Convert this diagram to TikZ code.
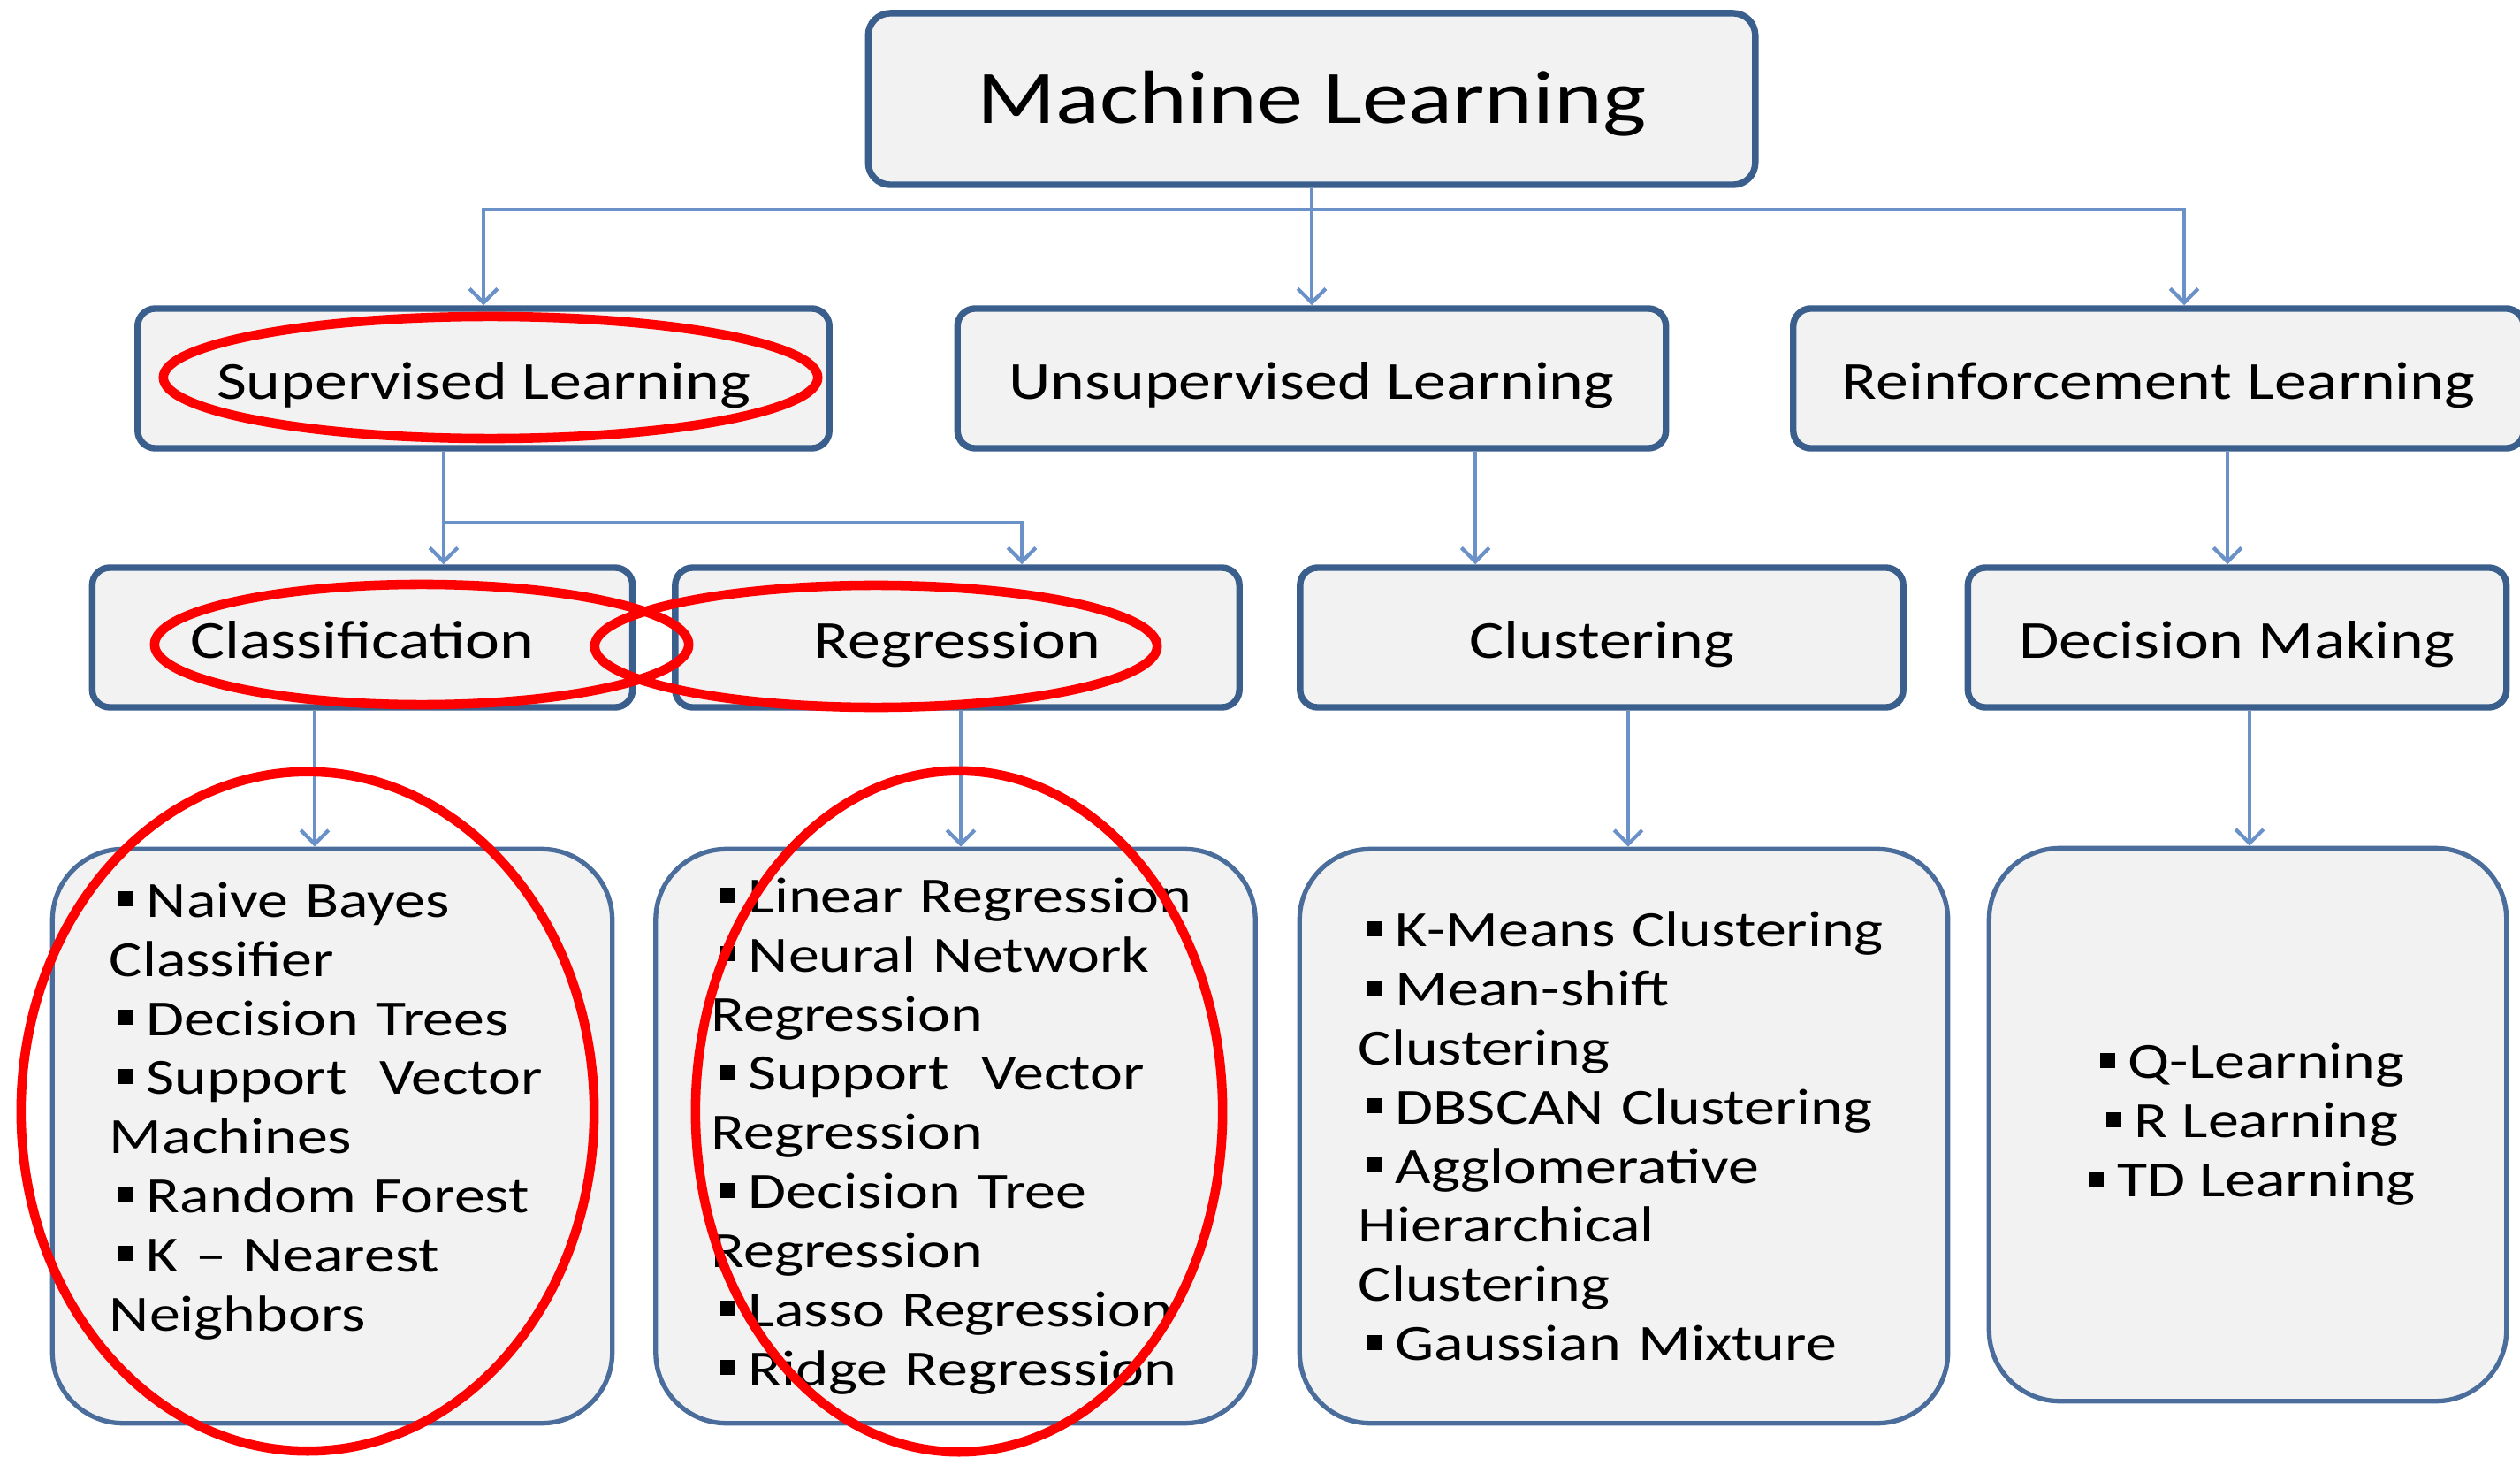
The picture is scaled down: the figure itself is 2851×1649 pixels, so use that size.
\documentclass[tikz,border=0pt]{standalone}
\usepackage{fontspec}
\setmainfont{Carlito}[FakeStretch=1.22]
\usepackage{tikz}
\usetikzlibrary{arrows.meta, positioning, calc}
\definecolor{mlEdge}{HTML}{3B5F8D}
\definecolor{mlFill}{HTML}{F2F2F2}
\definecolor{mlLink}{HTML}{6A92C8}
\definecolor{mlList}{HTML}{4A6D9C}
\definecolor{mlRing}{HTML}{FF0000}
\newcommand{\blt}{\hspace{0.1cm}\rule[0.12cm]{0.17cm}{0.17cm}\hspace{0.15cm}}
\tikzset{
  arrowB/.style={-{Straight Barb[length=4.5pt, width=9pt]}, mlLink, line width=1.2pt},
  boxT/.style={rectangle, rounded corners=0.25cm, draw=mlEdge, fill=mlFill,
               line width=2.1pt, align=center, text height=21pt, text depth=5.1pt,
               font=\fontsize{24.3}{29}\selectfont},
  boxH/.style={rectangle, rounded corners=0.2cm, draw=mlEdge, fill=mlFill,
               line width=2.1pt, align=center, minimum height=1.58cm,
               text height=17pt, text depth=3.6pt, font=\fontsize{17.2}{20}\selectfont},
  boxL/.style={rectangle, rounded corners=0.8cm, draw=mlList, fill=mlFill,
               line width=1.5pt, align=left, minimum height=6.49cm,
               font=\fontsize{16.3}{19}\selectfont},
  ringR/.style={mlRing, line width=3pt},
}
\begin{document}
\begin{tikzpicture}[x=0.01cm, y=-0.01cm]
    \useasboundingbox (0,0) rectangle (2851,1649);
    \node[boxT, minimum width=10.03cm, minimum height=1.94cm] (ml) at (1484,112)
      {Machine Learning};
    \node[boxH, minimum width=7.82cm] (sup) at (547,428) {Supervised Learning};
    \node[boxH, minimum width=8.01cm] (unsup) at (1484,428) {Unsupervised Learning};
    \node[boxH, minimum width=8.26cm] (rl) at (2442,428) {Reinforcement Learning};
    \node[boxH, minimum width=6.11cm] (cls) at (410,721) {Classification};
    \node[boxH, minimum width=6.38cm] (reg) at (1083,721) {Regression};
    \node[boxH, minimum width=6.82cm] (clu) at (1812,721) {Clustering};
    \node[boxH, minimum width=6.09cm] (dm) at (2531,721) {Decision Making};
    \node[boxL, minimum width=6.33cm, text width=5.04cm] (clist) at (376,1285)
      {\blt Naive Bayes\\Classifier\\\blt Decision Trees\\\blt Support\hspace{0.3em} Vector\\Machines\\
       \blt Random Forest\\\blt K – Nearest\\Neighbors\\\mbox{}};
    \node[boxL, minimum width=6.78cm, text width=5.52cm] (rlist) at (1081,1285)
      {\blt Linear Regression\\\blt Neural Network\\Regression\\\blt Support\hspace{0.3em} Vector\\Regression\\
       \blt Decision Tree\\Regression\\\blt Lasso Regression\\\blt Ridge Regression};
    \node[boxL, minimum width=7.33cm, text width=6.0cm] (klist) at (1837,1285)
      {\blt K-Means Clustering\\\blt Mean-shift\\Clustering\\\blt DBSCAN Clustering\\
       \blt Agglomerative\\Hierarchical\\Clustering\\\blt Gaussian Mixture};
    \node[boxL, minimum width=5.85cm, minimum height=6.25cm, align=center] (dlist) at (2543,1272)
      {\blt Q-Learning\\\blt R Learning\\\blt TD Learning};
    \coordinate (bar) at ($(ml.south)+(0,24)$);
    \draw[arrowB] (ml.south) -- (unsup.north);
    \draw[arrowB] (bar) -| (sup.north);
    \draw[arrowB] (bar) -| ([xshift=0.29cm]rl.north);
    \draw[arrowB] ([xshift=-0.45cm]sup.south) -- ([xshift=-0.45cm]sup.south |- cls.north);
    \draw[arrowB] ([xshift=-0.45cm]sup.south) -- ++(0,80) -| ([xshift=0.73cm]reg.north);
    \draw[arrowB] ([xshift=1.85cm]unsup.south) -- ([xshift=1.85cm]unsup.south |- clu.north);
    \draw[arrowB] ([xshift=0.78cm]rl.south) -- ([xshift=0.78cm]rl.south |- dm.north);
    \draw[arrowB] ([xshift=-0.54cm]cls.south) -- ([xshift=-0.54cm]cls.south |- clist.north);
    \draw[arrowB] ([xshift=0.04cm]reg.south) -- ([xshift=0.04cm]reg.south |- rlist.north);
    \draw[arrowB] ([xshift=0.30cm]clu.south) -- ([xshift=0.30cm]clu.south |- klist.north);
    \draw[arrowB] ([xshift=0.14cm]dm.south) -- ([xshift=0.14cm]dm.south |- dlist.north);
    \draw[ringR] (555,427) ellipse [x radius=3.7cm, y radius=0.69cm];
    \draw[ringR] (477,729) ellipse [x radius=3.02cm, y radius=0.68cm];
    \draw[ringR] (991,731) ellipse [x radius=3.18cm, y radius=0.69cm];
    \draw[ringR] (348,1257) ellipse [x radius=3.24cm, y radius=3.84cm];
    \draw[ringR] (1085,1257) ellipse [x radius=2.98cm, y radius=3.85cm];
\end{tikzpicture}
\end{document}
